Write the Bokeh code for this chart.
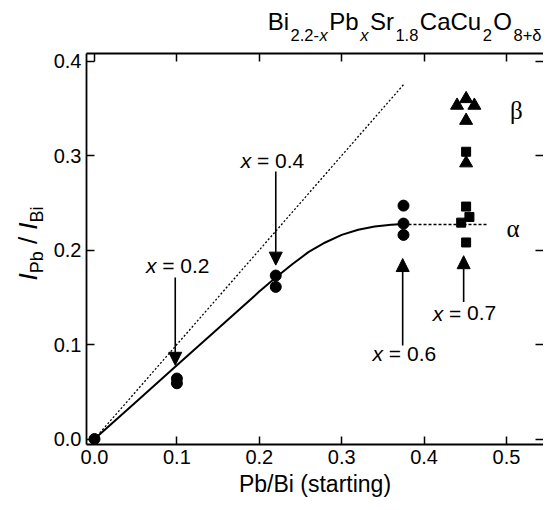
import numpy as np
from bokeh.plotting import figure
from bokeh.layouts import row, column
from bokeh.models import (Range1d, FixedTicker, LinearAxis, Label, Arrow, NormalHead,
                          ColumnDataSource, PrintfTickFormatter)
from bokeh.core.properties import value
from bokeh.embed import file_html
from bokeh.resources import INLINE

# ---------------- data ----------------
circle_x = [0.0, 0.1, 0.1, 0.22, 0.22, 0.375, 0.375, 0.375]
circle_y = [0.0, 0.064, 0.059, 0.173, 0.161, 0.247, 0.228, 0.216]
square_x = [0.451, 0.451, 0.455, 0.445, 0.451]
square_y = [0.304, 0.246, 0.235, 0.229, 0.208]
triangle_x = [0.440, 0.451, 0.461, 0.451, 0.451]
triangle_y = [0.353, 0.360, 0.353, 0.337, 0.292]
fit_x = [0.0, 0.05, 0.1, 0.15, 0.2, 0.22, 0.24, 0.26, 0.28, 0.30, 0.32, 0.34, 0.36, 0.375]
fit_y = [0.0, 0.039, 0.078, 0.117, 0.156, 0.171, 0.185, 0.198, 0.208, 0.216, 0.2215,
         0.225, 0.2268, 0.2275]
ideal_x = [0.0, 0.375]
ideal_y = [0.0, 0.375]
alpha_line_x = [0.375, 0.476]
alpha_line_y = [0.227, 0.227]
arrow_x = [0.098, 0.220, 0.374, 0.448]
arrow_y_start = [0.171, 0.283, 0.099, 0.145]
arrow_y_end = [0.078, 0.184, 0.191, 0.194]
arrow_values = ["0.2", "0.4", "0.6", "0.7"]
arrow_label_x = [0.101, 0.216, 0.376, 0.449]
arrow_label_y = [0.176, 0.287, 0.083, 0.126]
phase_names = ["β", "α"]
phase_x = [0.512, 0.508]
phase_y = [0.3476, 0.2227]
x_ticks = [0.0, 0.1, 0.2, 0.3, 0.4, 0.5]
y_ticks = [0.0, 0.1, 0.2, 0.3, 0.4]
x_label = "Pb/Bi (starting)"

SANS = "Liberation Sans"
MID = 0.33   # distance of the "middle" anchor above the baseline, in em
WID = {'B': 667, 'i': 222, 'P': 667, 'b': 556, 'S': 667, 'r': 333, 'C': 722, 'a': 556,
       'u': 556, 'O': 778, '.': 278, '-': 333, 'x': 500, '+': 584, 'δ': 556, ' ': 278,
       '/': 278, '=': 584, 'I': 278}
def tw(s, size):
    return sum(WID.get(c, 556) for c in s) / 1000 * size

# ---------------- layout geometry (pixels) ----------------
TOTAL_W, TOTAL_H = 543, 502
LW = 50          # y-label strip
TH = 45          # title strip
FL = 86          # left edge of the plot frame
MW = TOTAL_W - LW
MH = TOTAL_H - TH
MB = 58
y_lo = -(444 - 438.5) / 945
x_hi = (TOTAL_W - 94) / 824

p = figure(width=MW, height=MH, output_backend="svg", toolbar_location=None,
           x_range=Range1d(-0.0097, x_hi), y_range=Range1d(y_lo, 0.408),
           min_border_left=FL - LW, min_border_right=0, min_border_top=8,
           min_border_bottom=MB)
p.outline_line_color = None
p.grid.visible = False

def style_axis(ax, labels=True, line=True):
    ax.axis_line_width = 1.8
    ax.axis_line_color = "black" if line else None
    ax.major_tick_in = 8
    ax.major_tick_out = 0
    ax.major_tick_line_width = 1.5
    ax.major_tick_line_color = "black"
    ax.minor_tick_in = 0
    ax.minor_tick_out = 0
    if labels:
        ax.major_label_text_font = SANS
        ax.major_label_text_font_size = "20px"
        ax.major_label_text_color = "black"
        ax.major_label_standoff = 5
    else:
        ax.major_label_text_font_size = "1px"
        ax.major_label_text_color = None
        ax.major_label_standoff = 0

p.xaxis.ticker = FixedTicker(ticks=x_ticks)
p.yaxis.ticker = FixedTicker(ticks=y_ticks)
p.xaxis.formatter = PrintfTickFormatter(format="%.1f")
p.yaxis.formatter = PrintfTickFormatter(format="%.1f")
style_axis(p.xaxis[0])
style_axis(p.yaxis[0])
p.xaxis.axis_label = x_label
p.xaxis.axis_label_text_font = SANS
p.xaxis.axis_label_text_font_style = "normal"
p.xaxis.axis_label_text_font_size = "23px"
p.xaxis.axis_label_text_color = "black"
p.xaxis.axis_label_standoff = 4

top = LinearAxis(ticker=FixedTicker(ticks=x_ticks))
style_axis(top, labels=False)
p.add_layout(top, "above")
right = LinearAxis(ticker=FixedTicker(ticks=y_ticks))
style_axis(right, labels=False, line=False)
p.add_layout(right, "right")

p.line(ideal_x, ideal_y, line_color="black", line_width=1.3, line_dash="2 2")
p.line(fit_x, fit_y, line_color="black", line_width=2)
p.line(alpha_line_x, alpha_line_y, line_color="black", line_width=1.6, line_dash="3 2")

p.scatter(circle_x, circle_y, marker="circle", size=11, fill_color="black", line_color="black")
p.scatter(square_x, square_y, marker="square", size=9, fill_color="black", line_color="black")
p.scatter(triangle_x, triangle_y, marker="triangle", size=13, fill_color="black", line_color="black")

asrc = ColumnDataSource(dict(x=arrow_x, ys=arrow_y_start, ye=arrow_y_end))
p.add_layout(Arrow(source=asrc, x_start="x", y_start="ys", x_end="x", y_end="ye",
                   line_width=1.6, line_color="black",
                   end=NormalHead(size=13, fill_color="black", line_color="black", line_width=1)))

LS = 21
for v, lx, ly in zip(arrow_values, arrow_label_x, arrow_label_y):
    gap = tw(" ", LS)
    eq = "="
    total = tw("x", LS) + gap + tw(eq, LS) + gap + tw(v, LS)
    off = -total / 2 + tw("x", LS)
    for t, dx, st, al in [("x", off, "italic", "right"),
                          (eq, off + gap, "normal", "left"),
                          (v, off + 2 * gap + tw(eq, LS), "normal", "left")]:
        p.add_layout(Label(x=lx, y=ly, x_offset=dx, y_offset=MID * LS, text=t, text_align=al,
                           text_baseline="middle", text_font=SANS,
                           text_font_size=f"{LS}px", text_font_style=st, text_color="black"))

for name, x, y in zip(phase_names, phase_x, phase_y):
    p.add_layout(Label(x=x, y=y, text=name, text_align="center", text_baseline="middle",
                       text_font="Liberation Serif", text_font_size="25px", text_color="black"))

# ---------------- title strip (formula) ----------------
tfig = figure(width=MW, height=TH, output_backend="svg", toolbar_location=None,
              x_range=Range1d(FL, TOTAL_W), y_range=Range1d(TH, 0),
              x_axis_type=None, y_axis_type=None, min_border=0,
              min_border_left=FL - LW)
tfig.outline_line_color = None
F, S = 24, 16.5
BASE, SUB = 28.5, 40
GAP = 1.5
title_pieces = [("Bi", F, "normal", BASE), ("2.2-", S, "normal", SUB),
                ("x", S, "italic", SUB), ("Pb", F, "normal", BASE),
                ("x", S, "italic", SUB), ("Sr", F, "normal", BASE),
                ("1.8", S, "normal", SUB), ("CaCu", F, "normal", BASE),
                ("2", S, "normal", SUB), ("O", F, "normal", BASE),
                ("8+δ", S, "normal", SUB)]
widths = [tw(t, s) for t, s, _, _ in title_pieces]
gaps = [0.0] + [GAP if title_pieces[i][3] != title_pieces[i - 1][3] else 0.5
                for i in range(1, len(title_pieces))]
total = sum(widths) + sum(gaps)
cur = TOTAL_W - 2 - total
for (t, s, st, b), w, g in zip(title_pieces, widths, gaps):
    cur += g
    tfig.text(x=[cur], y=[b - MID * s], text=[t], text_align="left", text_baseline="middle",
              text_font=value(SANS), text_font_size=value(f"{s}px"),
              text_font_style=st, text_color="black")
    cur += w

# ---------------- y-label strip ----------------
yfig = figure(width=LW, height=TOTAL_H, output_backend="svg", toolbar_location=None,
              x_range=Range1d(0, LW), y_range=Range1d(TOTAL_H, 0),
              x_axis_type=None, y_axis_type=None, min_border=0)
yfig.outline_line_color = None
YF, YS = 26, 18
YBASE, YSUB = 36, 42
y_pieces = [("I", YF, "italic", YBASE, 0), ("Pb", YS, "normal", YSUB, 0),
            ("/", YF, "normal", YBASE, tw(" ", YF)), ("I", YF, "italic", YBASE, tw(" ", YF)),
            ("Bi", YS, "normal", YSUB, 0)]
ytotal = sum(tw(t, s) + g for t, s, _, _, g in y_pieces)
cur = 243 + ytotal / 2
for t, s, st, bx, g in y_pieces:
    cur -= g
    yfig.text(x=[bx - MID * s], y=[cur], text=[t], angle=np.pi / 2, text_align="left",
              text_baseline="middle", text_font=value(SANS),
              text_font_size=value(f"{s}px"), text_font_style=st, text_color="black")
    cur -= tw(t, s)

lay = row(yfig, column(tfig, p))
open("out.html", "w").write(file_html(lay, INLINE))
